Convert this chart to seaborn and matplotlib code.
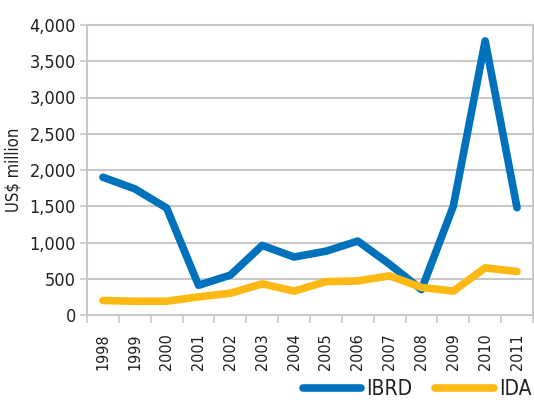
import pandas as pd
import matplotlib.pyplot as plt
import seaborn as sns

sns.set_theme(style="white")
plt.rcParams['font.family'] = ['DejaVu Sans']
plt.rcParams['font.stretch'] = 'condensed'

years = ['1998', '1999', '2000', '2001', '2002', '2003', '2004',
         '2005', '2006', '2007', '2008', '2009', '2010', '2011']
ibrd = [1900, 1740, 1475, 410, 550, 960, 800, 880, 1020, 700, 350, 1500, 3780, 1480]
ida = [200, 190, 190, 250, 300, 430, 330, 460, 470, 540, 380, 330, 650, 600]

df = pd.DataFrame({
    'Year': years * 2,
    'Value': ibrd + ida,
    'Series': ['IBRD'] * len(years) + ['IDA'] * len(years),
})

fig = plt.figure(figsize=(5.34, 4.0), dpi=100)
ax = fig.add_axes([0.163, 0.2125, 0.835, 0.725])

sns.lineplot(data=df, x='Year', y='Value', hue='Series', ax=ax,
             palette={'IBRD': '#0072BC', 'IDA': '#FDB913'},
             linewidth=5.5, legend=False, sort=False)
for ln in ax.lines:
    ln.set_solid_capstyle('round')
    ln.set_solid_joinstyle('round')

ax.set_xlim(-0.5, len(years) - 0.5)
ax.set_ylim(0, 4000)
ax.set_yticks(range(0, 4001, 500))
ax.set_yticklabels([f'{v:,}' for v in range(0, 4001, 500)], fontsize=13, color='#231f20')
ax.set_xticks(range(len(years)))
ax.set_xticklabels(years, rotation=90, fontsize=11.5, color='#231f20')
ax.set_xticks([i - 0.5 for i in range(len(years) + 1)], minor=True)
ax.tick_params(axis='x', which='major', length=0, pad=13)
ax.tick_params(axis='x', which='minor', length=6, width=1.2, color='#c8c8c8', direction='out', bottom=True)
ax.tick_params(axis='y', length=5, width=1.2, color='#c8c8c8', direction='out', left=True, pad=3)

ax.grid(axis='y', color='#c8c8c8', linewidth=1.5)
ax.set_axisbelow(True)
for side in ['left', 'bottom', 'right', 'top']:
    ax.spines[side].set_color('#c8c8c8')
    ax.spines[side].set_linewidth(1.5)

ax.set_xlabel('')
ax.set_ylabel('US$ million', fontsize=12, color='#231f20', labelpad=5)

handles = [plt.Line2D([], [], color='#0072BC', linewidth=5.5, solid_capstyle='round'),
           plt.Line2D([], [], color='#FDB913', linewidth=5.5, solid_capstyle='round')]
fig.legend(handles, ['IBRD', 'IDA'], loc='lower right', bbox_to_anchor=(1.03, -0.045),
           ncol=2, frameon=False, fontsize=15, handlelength=2.8, handletextpad=0.25,
           columnspacing=1.1, labelcolor='#231f20')

plt.savefig('out.png', dpi=100)
plt.close()
